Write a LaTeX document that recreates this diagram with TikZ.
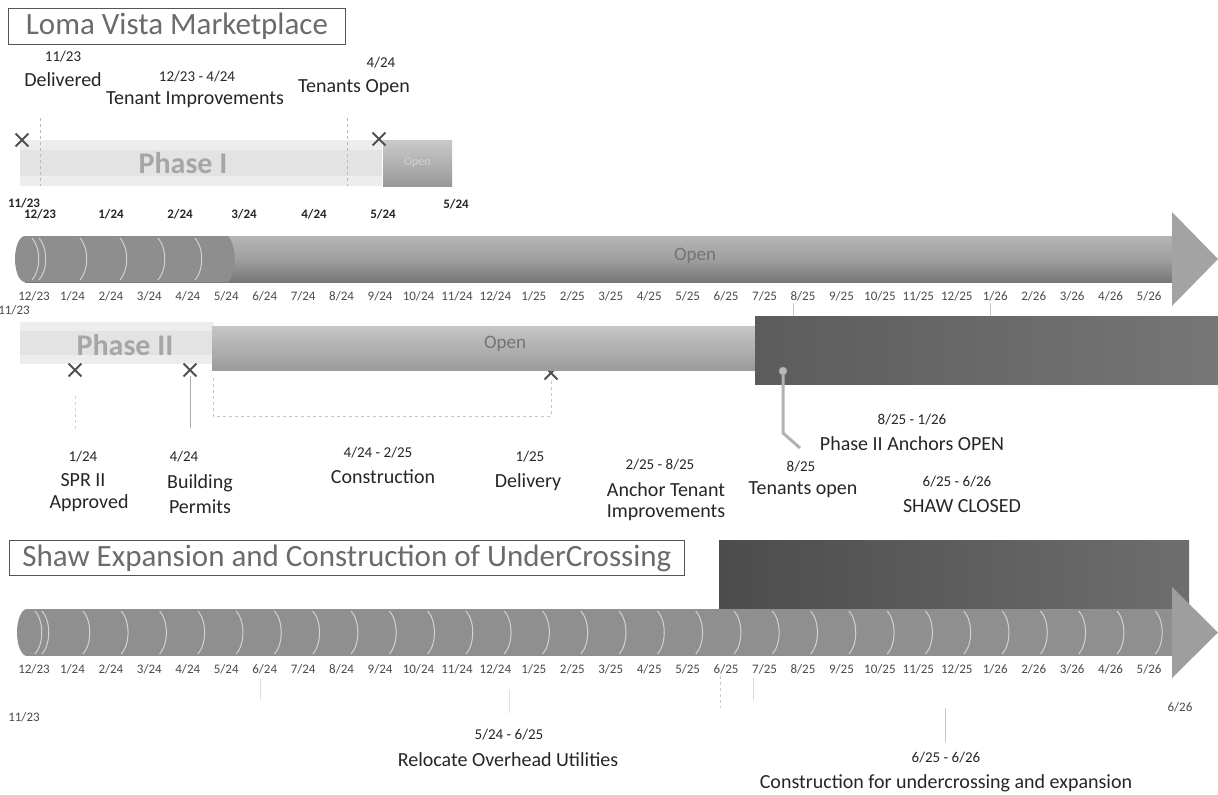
\documentclass[tikz,border=0pt]{standalone}
\usepackage{fontspec}
\setmainfont{Carlito}
\usetikzlibrary{shapes.misc}
\definecolor{ink}{HTML}{262626}
\definecolor{axc}{HTML}{4A4A4A}
\definecolor{boxc}{HTML}{555555}
\definecolor{ttlc}{HTML}{6B6B6B}
\definecolor{xc}{HTML}{505050}
\definecolor{phc}{HTML}{A6A6A6}
\definecolor{opc}{HTML}{747474}
\definecolor{bandc}{HTML}{EDEDED}
\definecolor{bandd}{HTML}{E3E3E3}
\definecolor{agA}{HTML}{B4B4B4}
\definecolor{agB}{HTML}{A0A0A0}
\definecolor{agC}{HTML}{767676}
\definecolor{segc}{HTML}{8E8E8E}
\definecolor{headc}{HTML}{A3A3A3}
\definecolor{dkA}{HTML}{5C5C5C}
\definecolor{dkB}{HTML}{767676}
\definecolor{dkC}{HTML}{4C4C4C}
\definecolor{dkD}{HTML}{6E6E6E}
\definecolor{seg2}{HTML}{8F8F8F}
\definecolor{head2}{HTML}{9E9E9E}
\begin{document}
\begin{tikzpicture}[x=1pt,y=-1pt,
  lab/.style={font=\fontsize{20}{22}\selectfont, text=ink, inner sep=0pt},
  dt/.style={font=\fontsize{15}{17}\selectfont, text=ink, inner sep=0pt},
  ax/.style={font=\fontsize{13}{15}\selectfont, text=axc, inner sep=0pt},
  bax/.style={font=\bfseries\fontsize{13}{15}\selectfont, text=ink, inner sep=0pt},
  ttl/.style={draw=boxc, line width=0.9pt, font=\fontsize{31}{34}\selectfont, text=ttlc, inner sep=0pt, anchor=north west},
  xm/.style={draw=xc, cross out, line width=1.8pt, minimum size=11pt, inner sep=0pt},
  phase/.style={font=\bfseries\fontsize{30}{32}\selectfont, text=phc, inner sep=0pt},
  opn/.style={text=opc, inner sep=0pt},
  seg/.style={draw=white, draw opacity=0.6, line width=1pt},
  faint/.style={draw=gray!45, line width=0.6pt},
  dsh/.style={draw=gray!55, line width=0.8pt, dashed},
]
\useasboundingbox (0,0) rectangle (1218,795);
\fill[white] (0,0) rectangle (1218,795);

% ---------- Section 1 ----------
\node[ttl, minimum width=337pt, minimum height=36pt] (t1) at (8,8) {Loma Vista Marketplace};

\node[dt] (l1d) at (63,57) {11/23};
\node[lab] (l1) at (63,80) {Delivered};
\node[dt] (l2d) at (197,77) {12/23 - 4/24};
\node[lab] (l2) at (195,100) {Tenant Improvements};
\node[dt] (l3d) at (381,63) {4/24};
\node[lab] (l3) at (354,88) {Tenants Open};

% Phase I band (faded)
\fill[bandc] (20,140) rectangle (382,186);
\fill[bandd] (20,150) rectangle (382,176);
\node[phase] (ph1) at (183,163) {Phase I};
\coordinate (d1t) at (40,118); \coordinate (d1b) at (40,186);
\coordinate (d2t) at (347,118); \coordinate (d2b) at (347,186);
\draw[dsh] (d1t) -- (d1b);
\draw[dsh] (d2t) -- (d2b);
\node[minimum width=69pt, minimum height=46pt, inner sep=0pt, top color=gray!42, bottom color=gray!80,
      font=\fontsize{12}{14}\selectfont, text=gray!35] (o1) at (417.5,163) {Open};
\node[xm] (x1) at (22,140) {};
\node[xm] (x2) at (379,139) {};

% bold month row
\node[bax] (b0) at (24,203) {11/23};
\node[bax] (b1) at (40,214) {12/23};
\node[bax] (b2) at (111,214) {1/24};
\node[bax] (b3) at (180,214) {2/24};
\node[bax] (b4) at (244,214) {3/24};
\node[bax] (b5) at (314,214) {4/24};
\node[bax] (b6) at (383,214) {5/24};
\node[bax] (b7) at (456,204) {5/24};

% Arrow 1
\shade[top color=agA, bottom color=agC, middle color=agB] (25,236) -- (1176,236) -- (1176,282) -- (25,282) -- cycle;
\fill[headc] (1172,212) -- (1218,259) -- (1172,306) -- cycle;
\fill[segc] (25,259) ellipse [x radius=10pt, y radius=23pt];
\fill[segc] (25,236) -- (228,236) .. controls (237,246) and (237,272) .. (228,282) -- (25,282) -- cycle;
\foreach \s in {32,39,80,120,158,195}
  \draw[seg] (\s,238) .. controls (\s+9,248) and (\s+9,270) .. (\s,280);
\node[opn, font=\fontsize{19}{21}\selectfont] (o2) at (695,256) {Open};

\foreach \a/\b [count=\i from 0] in {12/23,1/24,2/24,3/24,4/24,5/24,6/24,7/24,8/24,9/24,10/24,11/24,12/24,1/25,2/25,3/25,4/25,5/25,6/25,7/25,8/25,9/25,10/25,11/25,12/25,1/26,2/26,3/26,4/26,5/26}
  \node[ax] (ma\i) at ({34+38.45*\i},296) {\a/\b};
\node[ax] (m0b) at (14,310) {11/23};
\coordinate (k1a) at (793,303); \coordinate (k1b) at (793,318);
\coordinate (k2a) at (990,303); \coordinate (k2b) at (990,318);
\draw[faint] (k1a) -- (k1b);
\draw[faint] (k2a) -- (k2b);

% ---------- Section 2 ----------
\fill[bandc] (20,322) rectangle (214,364);
\fill[bandd] (20,331) rectangle (214,355);
\node[phase] (ph2) at (125,345) {Phase II};
\node[xm] (x3) at (75,370) {};
\node[xm] (x4) at (190,370) {};
\node[xm] (x5) at (551,373) {};
\node[minimum width=545pt, minimum height=44pt, inner sep=0pt, top color=gray!45, bottom color=gray!78] (bar2) at (484.5,348) {};
\node[opn, font=\fontsize{19}{21}\selectfont] (o3) at (505,344) {Open};
\node[minimum width=463pt, minimum height=68pt, inner sep=0pt, left color=dkA, right color=dkB] (dk1) at (986.5,350) {};
\node[circle, fill=gray!55, draw=gray!75, minimum size=8pt, inner sep=0pt] (dot) at (783,371) {};
\coordinate (bend) at (783,433);
\coordinate (cend) at (800,448);
\draw[line width=3pt, draw=gray!60] (dot.south) -- (bend) -- (cend);

\coordinate (br1) at (213,378); \coordinate (br2) at (213,416); \coordinate (br3) at (551,416);
\draw[dsh, draw=gray!45] (br1) -- (br2) -- (br3) -- (x5.south);
\coordinate (v4) at (190,428);
\draw[line width=0.8pt, draw=gray!65] (x4.south) -- (v4);
\coordinate (v3a) at (75,396); \coordinate (v3b) at (75,430);
\draw[dsh, draw=gray!35] (v3a) -- (v3b);

\node[dt] (p1d) at (83,457) {1/24};
\node[lab] (p1a) at (83,480) {SPR II};
\node[lab] (p1b) at (89,503) {Approved};
\node[dt] (p2d) at (184,457) {4/24};
\node[lab] (p2a) at (200,483) {Building};
\node[lab] (p2b) at (200,507) {Permits};
\node[dt] (p3d) at (378,453) {4/24 - 2/25};
\node[lab] (p3a) at (383,477) {Construction};
\node[dt] (p4d) at (530,457) {1/25};
\node[lab] (p4a) at (528,482) {Delivery};
\node[dt] (p5d) at (660,465) {2/25 - 8/25};
\node[lab] (p5a) at (666,490) {Anchor Tenant};
\node[lab] (p5b) at (666,513) {Improvements};
\node[dt] (p6d) at (801,467) {8/25};
\node[lab] (p6a) at (803,490) {Tenants open};
\node[dt] (p7d) at (912,420) {8/25 - 1/26};
\node[lab] (p7a) at (912,444) {Phase II Anchors OPEN};
\node[dt] (p8d) at (957,482) {6/25 - 6/26};
\node[lab] (p8a) at (962,506) {SHAW CLOSED};

% ---------- Section 3 ----------
\node[ttl, minimum width=675pt, minimum height=35pt] (t2) at (9,540) {Shaw Expansion and Construction of UnderCrossing};
\node[minimum width=470pt, minimum height=68pt, inner sep=0pt, left color=dkC, right color=dkD] (dk2) at (954,574) {};

\fill[seg2] (27,609) -- (1176,609) -- (1176,656) -- (27,656) -- cycle;
\fill[seg2] (27,632.5) ellipse [x radius=10pt, y radius=23.5pt];
\fill[head2] (1172,587) -- (1218,632.5) -- (1172,678) -- cycle;
\foreach \s in {35,42}
  \draw[seg] (\s,611) .. controls (\s+9,621) and (\s+9,644) .. (\s,654);
\foreach \k in {0,...,28}
  \draw[seg] ({83+38.3*\k},611) .. controls ({92+38.3*\k},621) and ({92+38.3*\k},644) .. ({83+38.3*\k},654);

\foreach \a/\b [count=\i from 0] in {12/23,1/24,2/24,3/24,4/24,5/24,6/24,7/24,8/24,9/24,10/24,11/24,12/24,1/25,2/25,3/25,4/25,5/25,6/25,7/25,8/25,9/25,10/25,11/25,12/25,1/26,2/26,3/26,4/26,5/26}
  \node[ax] (mb\i) at ({34+38.45*\i},669) {\a/\b};
\node[ax] (n0) at (24,717) {11/23};
\node[ax] (n1) at (1180,707) {6/26};

\coordinate (f1a) at (720,676); \coordinate (f1b) at (720,708);
\coordinate (f2a) at (753,678); \coordinate (f2b) at (753,700);
\coordinate (f3a) at (945,708); \coordinate (f3b) at (945,742);
\coordinate (f4a) at (509,690); \coordinate (f4b) at (509,713);
\coordinate (f5a) at (260,678); \coordinate (f5b) at (260,700);
\draw[dsh, draw=gray!40] (f1a) -- (f1b);
\draw[faint, draw=gray!30] (f2a) -- (f2b);
\draw[faint, draw=gray!45] (f3a) -- (f3b);
\draw[faint, draw=gray!25] (f4a) -- (f4b);
\draw[faint, draw=gray!25] (f5a) -- (f5b);

\node[dt] (s1d) at (509,735) {5/24 - 6/25};
\node[lab] (s1a) at (508,760) {Relocate Overhead Utilities};
\node[dt] (s2d) at (946,758) {6/25 - 6/26};
\node[lab] (s2a) at (946,783) {Construction for undercrossing and expansion};
\end{tikzpicture}
\end{document}
